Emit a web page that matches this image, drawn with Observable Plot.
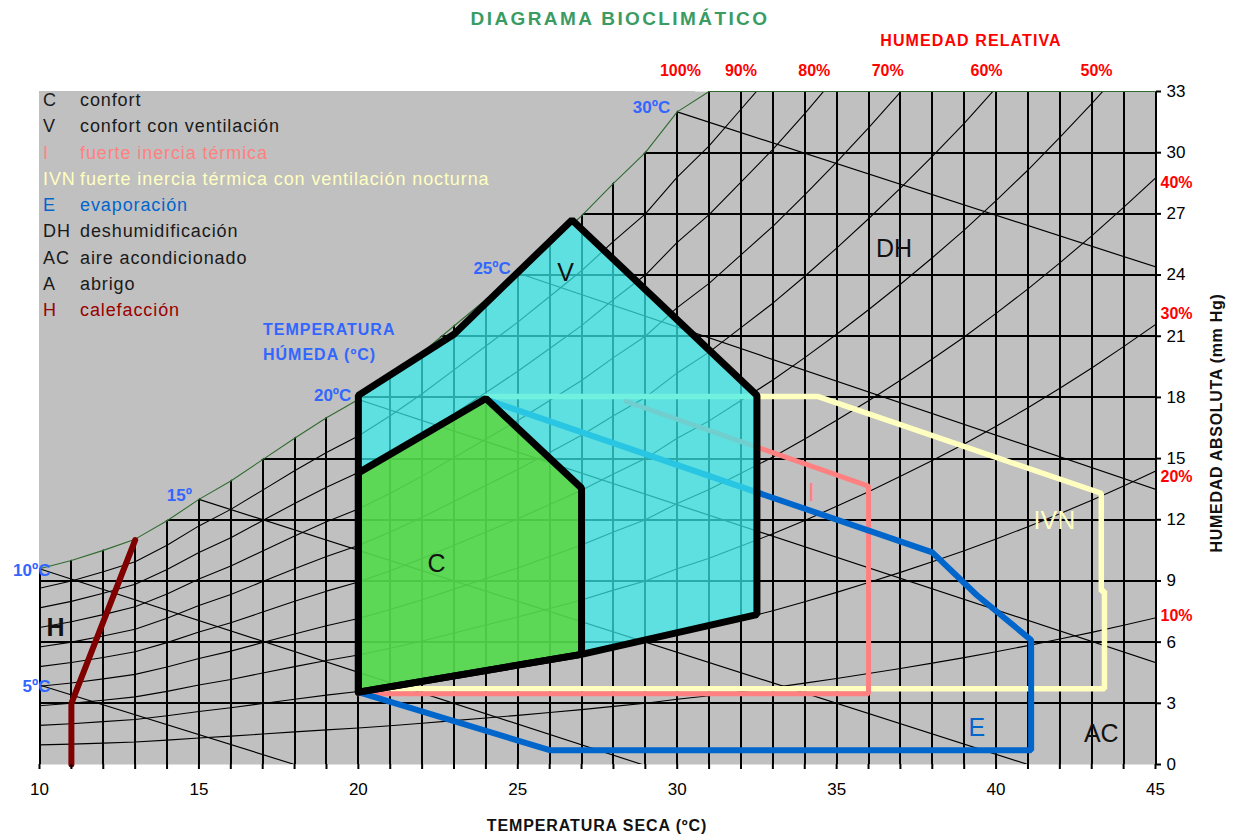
<!DOCTYPE html>
<html><head><meta charset="utf-8">
<script src="https://cdn.jsdelivr.net/npm/d3@7"></script>
<script src="https://cdn.jsdelivr.net/npm/@observablehq/plot@0.6"></script>
<style>
body{margin:0;background:#fff;font-family:"Liberation Sans",Arial,sans-serif;}
#wrap{position:relative;width:1240px;height:838px;overflow:hidden;}
.t{position:absolute;white-space:nowrap;transform:translate(-50%,-50%);font-weight:bold;line-height:1;}
#legend{position:absolute;left:43px;top:87px;font-size:18px;letter-spacing:0.9px;line-height:26.3px;}
#legend .row{white-space:nowrap;}
#legend .code{display:inline-block;width:37px;}
#wbtitle{position:absolute;left:263px;top:318px;color:#3366ff;font-weight:bold;font-size:16px;letter-spacing:1px;line-height:24.5px;}
</style></head><body><div id="wrap"></div>
<script>
// ---- data ----
const temps = [10,11,12,13,14,15,16,17,18,19,20,21,22,23,24,25,26,27,28,29,30,31,32,33,34,35,36,37,38,39,40,41,42,43,44,45];
const satPressure = [9.6,10.0,10.5,11.05,11.95,13.0,13.9,14.95,16.0,17.0,17.9,19.0,20.2,21.5,22.8,24.1,25.5,26.9,28.5,30.0,32.0,33.7,35.7,37.7,39.9,42.2,44.6,47.1,49.7,52.4,55.3,58.3,61.5,64.8,68.3,71.9];
const gridE = [3,6,9,12,15,18,21,24,27,30];
const axisE = [0,3,6,9,12,15,18,21,24,27,30,33];
const rhLevels = [90,80,70,60,50,40,30,20,10];
const rhTopLabels = ["100%","90%","80%","70%","60%","50%"];
const rhTopT = [30.1,32.0,34.3,36.6,39.7,43.15];
const rhRightLabels = ["40%","30%","20%","10%"];
const rhRightE = [28.5,22.1,14.1,7.3];
const wetBulb = [5,10,15,20,25,30];
const wetBulbLabels = ["5ºC","10ºC","15º","20ºC","25ºC","30ºC"];
const wbStartT = [10,10,15,20,25,30];
const wbStartE = [3.9,9.6,13.0,17.9,24.1,32.0];
const wbEndT = [18,28.9,41,45,45,45];
const wbEndE = [0,0,0,5.0,13.5,24.4];
// zones
const vT = [20,20,23,26.7,32.5,32.5,27,20];
const vE = [3.55,18.1,21.1,26.7,18.1,7.35,5.4,3.55];
const cT = [20,20,24,27,27,20];
const cE = [3.55,14.3,17.95,13.55,5.4,3.55];
const evapT = [24,38,39.4,41.1,41.1,26,20];
const evapE = [17.9,10.4,8.3,6.1,0.7,0.7,3.55];
const inerT = [28.4,36,36,20];
const inerE = [17.8,13.65,3.47,3.47];
const ivnT = [24,34.4,43.3,43.3,43.4,43.4,20];
const ivnE = [18.05,18.05,13.3,8.5,8.5,3.72,3.72];
const heatT = [11,11,11.15,13];
const heatE = [0,3.0,3.6,11.0];
const zoneLabels = ["C","V","I","IVN","E","DH","AC","H"];
const zoneT = [22.45,26.5,34.2,41.83,39.4,36.8,43.3,10.5];
const zoneE = [9.85,24.1,13.3,11.96,1.8,25.3,1.5,6.7];
const zoneColors = ["#111","#111","#ff8080","#ffffc0","#0066cc","#111","#111","#111"];
const legendCodes = ["C","V","I","IVN","E","DH","AC","A","H"];
const legendTexts = ["confort","confort con ventilación","fuerte inercia térmica","fuerte inercia térmica con ventilación nocturna","evaporación","deshumidificación","aire acondicionado","abrigo","calefacción"];
const legendColors = ["#1a1a1a","#1a1a1a","#ff8080","#ffffc0","#0066cc","#1a1a1a","#1a1a1a","#1a1a1a","#990000"];

// ---- derived tables ----
const satData = temps.map((T,i)=>({T, s:satPressure[i]}));
const rhData = rhLevels.flatMap(rh => satData.map(d => ({rh, T:d.T, e:rh/100*d.s})));
const wbData = wetBulb.flatMap((w,i)=>[{w,T:wbStartT[i],e:wbStartE[i]},{w,T:wbEndT[i],e:wbEndE[i]}]);
const wbLab = wetBulb.map((w,i)=>({w,T:wbStartT[i],e:wbStartE[i],label:wetBulbLabels[i]}));
const pts = (xs,ys)=>xs.map((T,i)=>({T,e:ys[i]}));
const zones = zoneLabels.map((z,i)=>({z,T:zoneT[i],e:zoneE[i],c:zoneColors[i]}));

const font = '"Liberation Sans", Arial, sans-serif';
const chart = Plot.plot({
  width:1240, height:838,
  marginLeft:39, marginRight:85, marginTop:91, marginBottom:74,
  x:{domain:[10,45], label:null},
  y:{domain:[0,33], label:null},
  style:{fontFamily:font, background:"white", overflow:"visible"},
  marks:[
    Plot.frame({fill:"#c0c0c0", stroke:"none"}),
    Plot.ruleX(temps, {y1:0, y2:33, stroke:"black", strokeWidth:2, shapeRendering:"crispEdges"}),
    Plot.ruleY(gridE, {x1:10, x2:45, stroke:"black", strokeWidth:2, shapeRendering:"crispEdges"}),
    Plot.line(rhData, {x:"T", y:"e", z:"rh", stroke:"black", strokeWidth:1.1, clip:true}),
    Plot.line(wbData, {x:"T", y:"e", z:"w", stroke:"black", strokeWidth:1.2, clip:true}),
    Plot.areaY(satData, {x:"T", y1:"s", y2:33, fill:"#c0c0c0", clip:true}),
    Plot.line(satData, {x:"T", y:d=>Math.min(d.s,33), stroke:"#2f6b2f", strokeWidth:1.1}),
    Plot.line(pts(ivnT,ivnE), {x:"T", y:"e", stroke:"#ffffc0", strokeWidth:5.5, strokeLinejoin:"miter"}),
    Plot.line(pts(inerT,inerE), {x:"T", y:"e", stroke:"#ff8080", strokeWidth:5, strokeLinejoin:"miter"}),
    Plot.line(pts(evapT,evapE), {x:"T", y:"e", stroke:"#0066cc", strokeWidth:6, strokeLinejoin:"miter"}),
    Plot.line(pts(vT,vE), {x:"T", y:"e", fill:"#39ecec", fillOpacity:0.72, stroke:"none"}),
    Plot.line(pts(cT,cE), {x:"T", y:"e", fill:"#5bd220", fillOpacity:0.72, stroke:"none"}),
    Plot.line(pts(vT,vE), {x:"T", y:"e", stroke:"black", strokeWidth:7, strokeLinejoin:"miter"}),
    Plot.line(pts(cT,cE), {x:"T", y:"e", stroke:"black", strokeWidth:7, strokeLinejoin:"miter"}),
    Plot.line(pts(heatT,heatE), {x:"T", y:"e", stroke:"#800000", strokeWidth:6}),
    Plot.text(zones.filter(d=>d.z!=="H"), {x:"T", y:"e", text:"z", fill:"c", fontSize:25}),
    Plot.text(zones.filter(d=>d.z==="H"), {x:"T", y:"e", text:"z", fill:"c", fontSize:25, fontWeight:"bold"}),
    Plot.text(wbLab.filter(d=>d.w>=15), {x:"T", y:"e", text:"label", textAnchor:"end", dx:-7, dy:-4, fill:"#3366ff", fontWeight:"bold", fontSize:17}),
    Plot.text(wbLab.filter(d=>d.w<15), {x:"T", y:"e", text:"label", textAnchor:"end", dx:11, dy:2, fill:"#3366ff", fontWeight:"bold", fontSize:17}),
    Plot.text(rhTopT, {x:d=>d, y:33, text:(d,i)=>rhTopLabels[i], dy:-21, fill:"#ff0000", fontWeight:"bold", fontSize:16}),
    Plot.text(rhRightE, {x:45, y:d=>d, text:(d,i)=>rhRightLabels[i], dx:5, textAnchor:"start", fill:"#ff0000", fontWeight:"bold", fontSize:16}),
    Plot.axisX(temps, {anchor:"bottom", tickSize:5, tickPadding:13, strokeWidth:2, fontSize:17, tickFormat:d=>d%5===0?String(d):"", label:null}),
    Plot.axisY(axisE, {anchor:"right", tickSize:5, tickPadding:6, strokeWidth:2, fontSize:17, label:null})
  ]
});
const wrap = document.getElementById("wrap");
wrap.appendChild(chart);

function addText(txt, x, y, css){
  const d = document.createElement("div");
  d.className = "t"; d.textContent = txt;
  d.style.left = x+"px"; d.style.top = y+"px";
  Object.assign(d.style, css);
  wrap.appendChild(d);
}
addText("DIAGRAMA BIOCLIMÁTICO", 620, 18, {fontSize:"19px", letterSpacing:"2.4px", color:"#3a9b63"});
addText("HUMEDAD RELATIVA", 971, 41, {fontSize:"16px", letterSpacing:"1.1px", color:"#ff0000"});
addText("TEMPERATURA SECA (ºC)", 597, 826, {fontSize:"16px", letterSpacing:"0.9px", color:"#111"});
addText("HUMEDAD ABSOLUTA (mm Hg)", 1217, 423, {fontSize:"16px", letterSpacing:"0.7px", color:"#111", transform:"translate(-50%,-50%) rotate(-90deg)"});

const wb = document.createElement("div");
wb.id = "wbtitle";
wb.innerHTML = "TEMPERATURA<br>HÚMEDA (ºC)";
wrap.appendChild(wb);

const lg = document.createElement("div");
lg.id = "legend";
legendCodes.forEach((c,i)=>{
  const r = document.createElement("div");
  r.className = "row"; r.style.color = legendColors[i];
  const a = document.createElement("span"); a.className="code"; a.textContent = c;
  const b = document.createElement("span"); b.textContent = legendTexts[i];
  r.appendChild(a); r.appendChild(b);
  lg.appendChild(r);
});
wrap.appendChild(lg);
</script>
</body></html>
